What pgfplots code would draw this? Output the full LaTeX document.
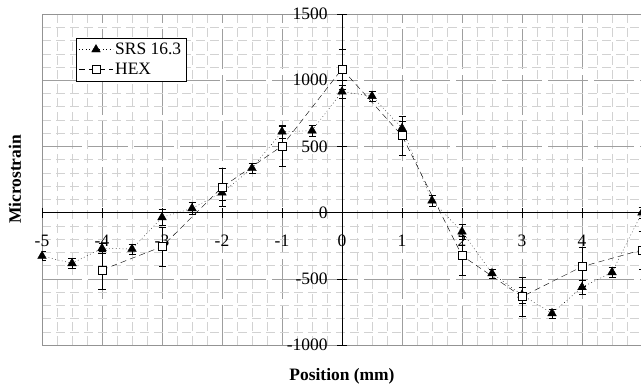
\documentclass[border=0pt]{standalone}
\usepackage{fontspec}
\setmainfont{Liberation Serif}
\usepackage{pgfplots}
\pgfplotsset{compat=1.18}
\pgfplotstableread{
x y e
-5 -328 35
-4.5 -383 35
-4 -270 40
-3.5 -275 40
-3 -36 60
-2.5 32 45
-2 150 60
-1.5 335 40
-1 611 50
-0.5 619 40
0 913 50
0.5 880 35
1 637 50
1.5 90 45
2 -144 60
2.5 -459 35
3 -622 60
3.5 -761 35
4 -564 50
4.5 -451 40
5 0 40
}\srs
\pgfplotstableread{
x y e
-4 -433 145
-3 -257 150
-2 191 145
-1 503 150
0 1085 150
1 581 150
2 -325 150
3 -635 150
4 -408 145
5 -282 145
}\hex
\begin{document}
\begin{tikzpicture}
\pgfplotsset{common/.style={
  scale only axis, width=600bp, height=331bp,
  xmin=-5, xmax=5, ymin=-1000, ymax=1500,
  xtick={-5,...,5}, ytick={-1000,-500,...,1500},
  minor x tick num=3, minor y tick num=4,
}}
\begin{axis}[common, name=frame,
  axis lines=box, axis line style={gray!85},
  grid=both,
  major grid style={gray!75, dash pattern=on 40bp off 6bp},
  minor grid style={gray!35, dash pattern=on 9bp off 5bp},
  major tick length=0pt, minor tick length=0pt,
  xticklabels={}, yticklabels={},
]
\end{axis}
\begin{axis}[common,
  axis x line=middle, axis y line=middle,
  axis line style={black, -},
  hide obscured x ticks=false, hide obscured y ticks=false,
  tick align=center, major tick length=10bp, minor tick length=0pt,
  tick style={black},
  xtick={-5,...,4},
  tick label style={font=\fontsize{17.5}{20}\selectfont},
  /pgf/number format/assume math mode=true,
  /pgf/number format/1000 sep={},
  xticklabel style={yshift=-14bp},
  yticklabel style={xshift=-6bp},
  xlabel={\textbf{Position (mm)}}, ylabel={\textbf{Microstrain}},
  label style={font=\fontsize{17.5}{20}\selectfont},
  xlabel style={at={(0.5,0)}, anchor=north, yshift=-20bp},
  ylabel style={at={(-0.045,0.5)}, anchor=center, rotate=90},
  legend style={at={(0.056,0.928)}, anchor=north west, draw=black, fill=white,
    font=\fontsize{17.5}{20}\selectfont, inner sep=3bp, row sep=3bp},
  legend cell align=left,
  legend image code/.code={\draw[mark repeat=2, mark phase=2] plot coordinates {(0bp,0bp) (17bp,0bp) (34bp,0bp)};},
]
\addplot[black, dash pattern=on 0.8bp off 2.6bp, mark=triangle*, mark size=5bp, mark options={solid, fill=black},
  error bars/.cd, y dir=both, y explicit, error bar style={black, solid, thin},
  error mark options={rotate=90, mark size=3.5bp, black, solid}]
  table[x=x, y=y, y error=e] {\srs};
\addlegendentry{SRS 16.3}
\addplot[black, dash pattern=on 6bp off 4bp, mark=square*, mark size=4bp, mark options={solid, fill=white},
  error bars/.cd, y dir=both, y explicit, error bar style={black, solid, thin},
  error mark options={rotate=90, mark size=3.5bp, black, solid}]
  table[x=x, y=y, y error=e] {\hex};
\addlegendentry{HEX}
\end{axis}
\pgfresetboundingbox
\path ([xshift=-42bp,yshift=-45bp]frame.south west) rectangle ([xshift=-1bp,yshift=14bp]frame.north east);
\end{tikzpicture}
\end{document}
